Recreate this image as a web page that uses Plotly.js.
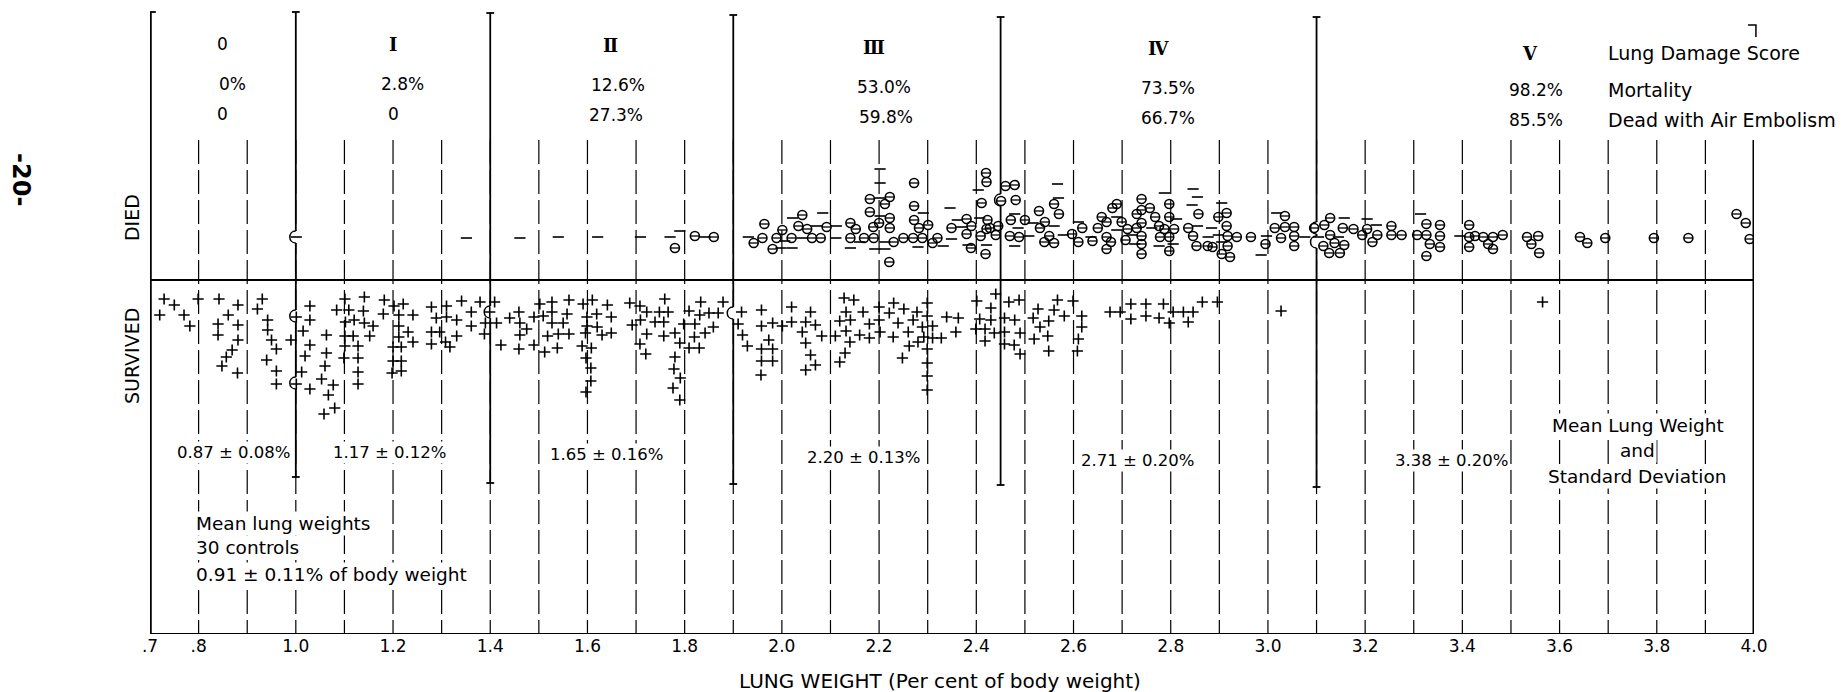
<!DOCTYPE html>
<html><head><meta charset="utf-8">
<script src="https://cdn.plot.ly/plotly-3.0.1.min.js"></script>
<style>html,body{margin:0;padding:0;background:#fff}#chart{width:1847px;height:692px}</style>
</head><body><div id="chart"></div>
<script>
// ---- DATA (lung weight as % of body weight, stacking offset within band) ----
const survived = [
[0.729,-19],[0.750,-25],[0.799,-19],[0.842,-19],[0.881,-25],[0.931,-19],[0.720,-35],[0.770,-35],[0.782,-46],[0.861,-35],[0.840,-44],[0.881,-45],[0.921,-29],[0.942,-40],[0.840,-55],[0.881,-60],[0.942,-50],[0.950,-60],[0.960,-69],[0.869,-70],[0.857,-77],[0.848,-86],[0.880,-93],[0.940,-80],[0.960,-91],[0.960,-104],
[1.001,-37],[1.029,-26],[1.029,-40],[1.015,-51],[0.990,-60],[1.029,-65],[1.019,-76],[1.012,-92],[1.001,-104],[1.029,-109],[1.063,-55],[1.063,-73],[1.060,-86],[1.053,-99],[1.077,-105],[1.067,-115],[1.080,-128],[1.058,-134],
[1.101,-19],[1.141,-17],[1.084,-30],[1.109,-30],[1.139,-31],[1.102,-42],[1.120,-40],[1.141,-43],[1.159,-46],[1.101,-56],[1.118,-56],[1.152,-56],[1.101,-66],[1.128,-66],[1.099,-78],[1.128,-78],[1.128,-92],[1.128,-104],
[1.182,-20],[1.202,-26],[1.221,-24],[1.180,-34],[1.212,-35],[1.241,-35],[1.212,-46],[1.231,-52],[1.212,-57],[1.241,-62],[1.200,-67],[1.217,-67],[1.200,-81],[1.217,-81],[1.198,-93],[1.217,-91],
[1.279,-27],[1.310,-26],[1.341,-21],[1.379,-22],[1.409,-22],[1.289,-38],[1.310,-37],[1.331,-40],[1.361,-32],[1.399,-32],[1.361,-46],[1.390,-43],[1.279,-52],[1.296,-52],[1.331,-56],[1.388,-54],[1.279,-64],[1.308,-62],[1.317,-67],[1.413,-43],[1.422,-65],
[1.440,-38],[1.459,-32],[1.461,-43],[1.475,-49],[1.490,-37],[1.502,-24],[1.509,-36],[1.527,-22],[1.527,-32],[1.527,-43],[1.461,-55],[1.518,-56],[1.459,-69],[1.490,-65],[1.512,-72],
[1.562,-20],[1.591,-24],[1.610,-20],[1.641,-25],[1.687,-23],[1.708,-26],[1.759,-19],[1.833,-22],[1.879,-22],
[1.558,-34],[1.599,-37],[1.619,-34],[1.649,-37],[1.722,-32],[1.748,-32],[1.766,-32],[1.809,-31],[1.831,-35],[1.850,-33],[1.869,-33],[1.917,-32],[1.958,-30],[2.020,-27],[2.059,-32],[2.128,-18],[2.148,-20],[2.132,-32],[2.167,-32],[2.200,-27],[2.230,-23],[2.251,-29],[2.221,-33],[2.278,-32],[2.299,-23],[2.299,-36],[2.339,-37],[2.363,-38],
[1.550,-43],[1.599,-46],[1.620,-47],[1.692,-45],[1.709,-40],[1.739,-42],[1.757,-42],[1.798,-44],[1.821,-44],[1.859,-47],[1.910,-44],[1.958,-46],[1.981,-43],[2.001,-46],[2.020,-42],[2.049,-42],[2.069,-45],[2.119,-41],[2.141,-40],[2.180,-44],[2.200,-40],[2.239,-43],[2.270,-40],[2.289,-47],[2.310,-46],[2.358,-52],
[1.540,-54],[1.562,-54],[1.596,-53],[1.630,-55],[1.649,-53],[1.722,-54],[1.757,-56],[1.780,-53],[1.842,-53],[1.820,-57],[1.919,-55],[1.973,-60],[2.042,-52],[2.082,-56],[2.110,-56],[2.132,-51],[2.160,-55],[2.180,-58],[2.202,-52],[2.229,-57],[2.260,-52],[2.292,-57],[2.310,-58],[2.328,-58],
[1.538,-68],[1.589,-66],[1.608,-68],[1.708,-64],[1.790,-63],[1.809,-68],[1.830,-68],[1.929,-66],[1.958,-69],[1.981,-69],[2.049,-63],[2.140,-62],[2.262,-66],[2.280,-62],[2.299,-69],
[1.597,-78],[1.720,-74],[1.780,-77],[1.958,-81],[1.981,-81],[2.059,-75],[2.130,-73],[2.248,-78],[2.299,-83],
[1.607,-88],[1.778,-89],[1.791,-98],[1.957,-95],[2.049,-90],[2.069,-85],[2.119,-82],[2.299,-96],
[1.607,-101],[1.776,-108],[1.597,-112],[1.790,-120],[2.299,-110],
[2.401,-21],[2.430,-28],[2.440,-14],[2.467,-22],[2.488,-20],[2.407,-39],[2.430,-40],[2.458,-38],[2.479,-40],[2.399,-49],[2.418,-49],[2.437,-53],[2.458,-52],[2.490,-53],[2.418,-61],[2.458,-64],[2.478,-65],[2.490,-74],
[2.527,-29],[2.560,-30],[2.567,-20],[2.599,-21],[2.581,-36],[2.617,-36],[2.517,-38],[2.549,-41],[2.531,-47],[2.617,-47],[2.547,-56],[2.519,-59],[2.610,-59],[2.549,-71],[2.608,-71],
[2.675,-32],[2.696,-32],[2.718,-24],[2.749,-24],[2.785,-24],[2.718,-39],[2.749,-36],[2.776,-38],[2.797,-43],[2.805,-32],[2.826,-32],[2.846,-32],[2.836,-42],[2.865,-22],[2.896,-22],[3.027,-31],
[3.565,-22]
];
const diedAirEmbolism = [
[1.780,32],[1.821,44],[1.860,43],[1.942,37],[1.960,42],[1.964,56],[1.981,31],[1.989,42],[2.001,50],[2.020,42],[2.042,65],[2.034,54],[2.052,51],[2.062,42],[2.080,42],[2.092,53],[2.141,57],[2.152,51],[2.141,42],[2.169,42],[2.189,42],[2.181,81],[2.222,83],[2.212,76],[2.181,68],[2.222,62],[2.200,57],[2.188,53],[2.222,52],[2.230,38],[2.221,18],[2.272,97],[2.272,74],[2.272,60],[2.282,52],[2.301,55],[2.250,42],[2.270,42],[2.289,42],[2.310,37],[2.320,42],[2.349,52],
[2.420,107],[2.421,98],[2.411,77],[2.460,94],[2.479,95],[2.451,79],[2.481,80],[2.380,61],[2.390,54],[2.423,60],[2.445,54],[2.428,52],[2.380,46],[2.409,44],[2.421,51],[2.440,45],[2.471,60],[2.500,60],[2.469,44],[2.488,43],[2.389,32],[2.419,26],
[2.529,69],[2.560,76],[2.570,66],[2.541,58],[2.531,52],[2.550,44],[2.540,38],[2.560,37],[2.597,46],[2.610,38],[2.618,52],[2.639,39],[2.650,52],[2.658,63],[2.668,58],[2.689,76],[2.680,72],[2.699,58],[2.711,51],[2.668,43],[2.677,38],[2.668,31],[2.707,40],
[2.730,52],[2.730,66],[2.740,70],[2.740,81],[2.757,72],[2.740,57],[2.740,44],[2.740,36],[2.740,26],[2.768,63],[2.776,54],[2.787,51],[2.778,43],[2.797,43],[2.797,76],[2.797,63],[2.807,51],[2.797,29],
[2.836,52],[2.857,66],[2.846,44],[2.853,34],[2.876,34],[2.886,33],[2.898,63],[2.915,67],[2.915,54],[2.917,44],[2.936,43],[2.917,34],[2.905,26],[2.922,23],
[2.965,43],[2.995,36],[3.014,52],[3.035,64],[3.035,53],[3.054,53],[3.027,42],[3.054,44],[3.054,34],[3.095,52],[3.116,55],[3.128,62],[3.154,52],[3.176,51],[3.128,45],[3.114,34],[3.126,27],[3.148,27],[3.137,37],[3.157,35],
[3.194,45],[3.204,51],[3.215,38],[3.225,45],[3.254,54],[3.254,45],[3.275,45],[3.307,45],[3.326,56],[3.326,45],[3.333,36],[3.326,24],[3.354,55],[3.354,44],[3.354,33],[3.414,55],[3.414,43],[3.414,33],[3.426,44],[3.443,43],[3.453,36],[3.463,43],[3.463,31],[3.483,45],
[3.533,43],[3.556,44],[3.542,36],[3.558,27],[3.642,43],[3.657,37],[3.694,42],[3.794,42],[3.865,42],[3.964,66],[3.983,57],[3.991,41]
];
const diedOther = [
[1.001,43],[1.351,42],[1.461,42],
[1.540,43],[1.621,43],[1.709,43],[1.770,43],[1.790,49],[1.842,43],[1.931,43],[1.998,32],[2.006,39],[2.021,32],[2.022,62],[2.042,42],[2.071,54],[2.084,67],[2.112,54],[2.111,42],[2.141,32],[2.160,38],[2.202,82],[2.202,64],[2.202,111],[2.202,97],[2.212,38],[2.191,31],[2.212,31],[2.291,67],[2.280,33],[2.332,34],[2.349,41],[2.346,72],[2.361,60],
[2.404,90],[2.567,96],[2.569,82],[2.370,53],[2.407,62],[2.479,66],[2.486,52],[2.508,44],[2.517,57],[2.560,54],[2.579,45],[2.610,58],[2.636,43],[2.689,63],[2.689,50],[2.720,45],[2.726,36],[2.761,52],[2.787,87],[2.776,34],[2.805,36],[2.812,61],[2.846,91],[2.855,83],[2.844,75],[2.855,54],[2.877,43],[2.884,52],[2.898,45],[2.905,77],[2.905,38],[3.018,67],[2.997,44],[2.986,25],[3.076,43],[3.104,43],[3.145,43],[3.157,62],[2.421,35],[2.479,34],[2.383,35],
[3.223,55],[3.314,66],[3.395,44],[3.204,61]
];
const classBounds = [1.0, 1.4, 1.9, 2.45, 3.1];
const damageScore = ['0','Ⅰ','Ⅱ','Ⅲ','Ⅳ','Ⅴ'];
const mortality = ['0%','2.8%','12.6%','53.0%','73.5%','98.2%'];
const deadAirEmbolism = ['0','0','27.3%','59.8%','66.7%','85.5%'];
const meanSD = ['0.87 ± 0.08%','1.17 ± 0.12%','1.65 ± 0.16%','2.20 ± 0.13%','2.71 ± 0.20%','3.38 ± 0.20%'];
const tickVals = [0.7,0.8,1.0,1.2,1.4,1.6,1.8,2.0,2.2,2.4,2.6,2.8,3.0,3.2,3.4,3.6,3.8,4.0];
const tickText = ['.7','.8','1.0','1.2','1.4','1.6','1.8','2.0','2.2','2.4','2.6','2.8','3.0','3.2','3.4','3.6','3.8','4.0'];

// ---- LAYOUT CONSTANTS ----
const Y_TOP = 271, Y_BASE = -354, DASH_TOP = 140;
const boundTop = [268, 267, 265, 263, 263];
const boundBot = [-197, -203, -204, -205, -207];
const hops = [[1.0,43],[1.0,-36],[1.0,-103],[1.4,-32],[1.9,-33],[2.45,80],[3.1,52],[3.1,38]];
const FONT = '"DejaVu Sans", sans-serif';
const ROMAN = '"DejaVu Serif", "DejaVu Sans", serif';

const shapes = [];
const L = (x0,y0,x1,y1,w,dash,color) => shapes.push({type:'line',xref:'x',yref:'y',x0,y0,x1,y1,layer:'below',line:{color:color||'#000',width:w||1.5,dash:dash||'solid'}});
// dashed guide lines every 0.1
for (let k = 8; k <= 39; k++) L(k/10, DASH_TOP, k/10, Y_BASE, 1.2, '24px,6px');
// right edge line at 4.0 and bracket
L(4.0, DASH_TOP, 4.0, Y_BASE, 3);
shapes.push({type:'path',xref:'paper',yref:'y',layer:'below',path:'M 0.9963,255 L 1.0012,255 L 1.0012,243',line:{color:'#000',width:1.5}});
// left axis
L(0.7, 268, 0.7, Y_BASE, 3.5);
L(0.7, 268, 0.712, 268, 1.8);
// class boundary lines with end caps
classBounds.forEach((b,i) => {
  L(b, boundTop[i], b, boundBot[i], 1.8);
  L(b-0.008, boundTop[i], b+0.008, boundTop[i], 1.8);
  L(b-0.008, boundBot[i], b+0.008, boundBot[i], 1.8);
});
// divider between died and survived, baseline
L(0.7, 0, 4.0, 0, 2.2);
L(0.7, Y_BASE, 4.0, Y_BASE, 2.2);
// line hops
hops.forEach(([x,y]) => {
  L(x, y-6, x, y+6, 4, 'solid', '#fff');
  shapes.push({type:'path',xref:'x',yref:'y',layer:'below',
    path:`M ${x},${y+6} C ${x-0.0165},${y+6} ${x-0.0165},${y-6} ${x},${y-6}`,line:{color:'#000',width:1.5}});
});

// ---- TEXT ----
const ann = [];
const A = (text,x,y,size,opts) => ann.push(Object.assign({text,x,y,xref:'x',yref:'y',xanchor:'center',yanchor:'middle',showarrow:false,font:{family:FONT,size:size,color:'#000'}},opts||{}));
const scoreX = [0.85,1.20,1.648,2.19,2.774,3.539];
const scoreY = [236,236,235,233,232,227];
const mortX = [0.87,1.22,1.663,2.21,2.794,3.551];
const mortY = [196,196,195,193,192,190];
const embX = [0.85,1.20,1.659,2.214,2.794,3.551];
const embY = [166,166,165,163,162,160];
const meanX = [0.872,1.193,1.64,2.167,2.732,3.377];
const meanY = [-172,-172,-174,-177,-180,-180];
damageScore.forEach((t,i) => A(i===0 ? t : '<b>'+t+'</b>', scoreX[i], scoreY[i], 17, {font:{family: i===0?FONT:ROMAN, size:i===0?17:18, color:'#000'}}));
mortality.forEach((t,i) => A(t, mortX[i], mortY[i], 17));
deadAirEmbolism.forEach((t,i) => A(t, embX[i], embY[i], 17));
meanSD.forEach((t,i) => A(t, meanX[i], meanY[i], 16.5, {bgcolor:'#fff'}));
A('Lung Damage Score', 3.695, 227, 19, {xanchor:'left'});
A('Mortality', 3.695, 190, 19, {xanchor:'left'});
A('Dead with Air Embolism', 3.695, 160, 19, {xanchor:'left'});
A('Mean Lung Weight', 3.761, -145, 18.5, {bgcolor:'#fff'});
A('and', 3.761, -170, 18.5, {bgcolor:'#fff'});
A('Standard Deviation', 3.761, -196, 18.5, {bgcolor:'#fff'});
A('Mean lung weights', 0.790, -243, 18.5, {xanchor:'left', bgcolor:'#fff'});
A('30 controls', 0.790, -267, 18.5, {xanchor:'left', bgcolor:'#fff'});
A('0.91 ± 0.11% of body weight', 0.790, -294, 18.5, {xanchor:'left', bgcolor:'#fff'});
A('DIED', -0.0112, 62, 19, {xref:'paper', textangle:-90});
A('SURVIVED', -0.0112, -76, 19, {xref:'paper', textangle:-90});
A('<b>-20-</b>', -0.0805, 100, 24, {xref:'paper', textangle:90});
A('LUNG WEIGHT (Per cent of body weight)', 2.325, -0.0752, 20, {yref:'paper'});

// ---- TRACES ----
const xs = a => a.map(p => p[0]), ys = a => a.map(p => p[1]);
const traces = [
  {type:'scatter',mode:'markers',x:xs(survived),y:ys(survived),name:'Survived',
   marker:{symbol:'cross-thin',size:8,color:'#000',line:{color:'#000',width:1.6}}},
  {type:'scatter',mode:'markers',x:xs(diedAirEmbolism),y:ys(diedAirEmbolism),name:'Died, air embolism',
   marker:{symbol:'circle-open',size:9,color:'#000',line:{color:'#000',width:1.6}}},
  {type:'scatter',mode:'markers',x:xs(diedAirEmbolism),y:ys(diedAirEmbolism),showlegend:false,
   marker:{symbol:'line-ew',size:6,color:'#000',line:{color:'#000',width:1.3}}},
  {type:'scatter',mode:'markers',x:xs(diedOther),y:ys(diedOther),name:'Died',
   marker:{symbol:'line-ew',size:8,color:'#000',line:{color:'#000',width:1.6}}}
];

const layout = {
  width:1847, height:692,
  margin:{l:150,r:93,t:9,b:58},
  paper_bgcolor:'#fff', plot_bgcolor:'#fff',
  showlegend:false,
  xaxis:{range:[0.7,4.0],tickvals:tickVals,ticktext:tickText,ticks:'',showgrid:false,zeroline:false,showline:false,
         tickfont:{family:FONT,size:17,color:'#000'}},
  yaxis:{range:[Y_BASE,Y_TOP],visible:false,showgrid:false,zeroline:false},
  shapes:shapes, annotations:ann
};
Plotly.newPlot('chart', traces, layout, {staticPlot:true});
</script></body></html>
